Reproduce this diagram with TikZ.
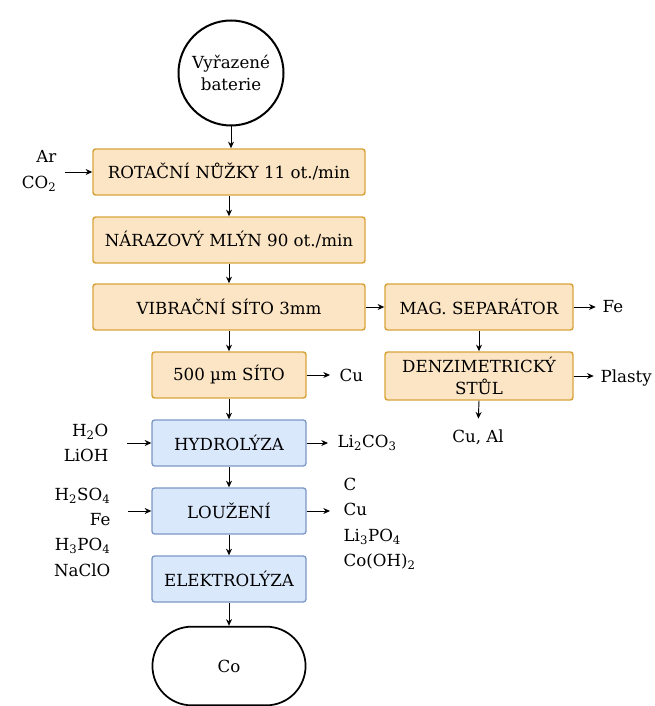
\documentclass[tikz,border=0pt]{standalone}
\usepackage{fontspec}
\setmainfont{DejaVu Serif}
\usetikzlibrary{arrows.meta,shapes.misc}
\definecolor{mechfill}{HTML}{FCE5C4}
\definecolor{mechline}{HTML}{D8A43C}
\definecolor{chemfill}{HTML}{DAE8FC}
\definecolor{chemline}{HTML}{7C98C4}

\begin{document}
\begin{tikzpicture}[x=0.75pt,y=-0.75pt,font=\fontsize{12.5}{16}\selectfont,>={Stealth[length=5pt,width=4.5pt]},
mech/.style={draw=mechline,fill=mechfill,line width=1.1pt,rounded corners=2pt,align=center,minimum height=34.5pt,inner sep=2pt},
chem/.style={draw=chemline,fill=chemfill,line width=1pt,rounded corners=2pt,align=center,minimum height=34.5pt,minimum width=115.5pt,inner sep=2pt},
lab/.style={inner sep=1pt,font=\fontsize{12.5}{19}\selectfont},
flow/.style={->,line width=0.7pt}]
\useasboundingbox (0,0) rectangle (655,706);
% mechanicka cast
\node[circle,draw,line width=1.5pt,minimum size=78.75pt,align=center] (batt) at (231,73) {Vyřazené\\baterie};
\node[mech,minimum width=204pt] (rot) at (229,172) {ROTAČNÍ NŮŽKY 11 ot./min};
\node[mech,minimum width=204pt] (mill) at (229,240) {NÁRAZOVÝ MLÝN 90 ot./min};
\node[mech,minimum width=204pt] (vib) at (229,307) {VIBRAČNÍ SÍTO 3mm};
\node[mech,minimum width=141pt] (mag) at (479,307) {MAG. SEPARÁTOR};
\node[mech,minimum width=115.5pt] (sieve) at (229,375) {500 µm SÍTO};
\node[mech,minimum width=141pt,minimum height=36pt] (denz) at (479,376) {DENZIMETRICKÝ\\STŮL};
% chemicka cast
\node[chem] (hydro) at (229,443) {HYDROLÝZA};
\node[chem] (leach) at (229,511) {LOUŽENÍ};
\node[chem] (elec) at (229,579) {ELEKTROLÝZA};
\node[rounded rectangle,draw,line width=1.3pt,minimum width=121.5pt,minimum height=59pt] (co) at (229,666) {Co};
% vstupy a vystupy
\node[lab,align=right,anchor=east] (gas) at (58,171) {Ar\\CO\textsubscript{2}};
\node[lab,anchor=west] (fe) at (601,307) {Fe};
\node[lab,anchor=west] (plast) at (599,378) {Plasty};
\node[lab] (cual) at (478,437) {Cu, Al};
\node[lab,anchor=west] (cu) at (338,375) {Cu};
\node[lab,align=right,anchor=east] (hydroin) at (110,443) {H\textsubscript{2}O\\LiOH};
\node[lab,anchor=west] (hydroout) at (336,443) {Li\textsubscript{2}CO\textsubscript{3}};
\node[lab,align=right,anchor=east] (leachin) at (112,532) {H\textsubscript{2}SO\textsubscript{4}\\Fe\\H\textsubscript{3}PO\textsubscript{4}\\NaClO};
\node[lab,align=left,anchor=west] (leachout) at (342,524) {C\\Cu\\Li\textsubscript{3}PO\textsubscript{4}\\Co(OH)\textsubscript{2}};
% sipky
\draw[flow] (batt.south) -- (batt.south |- rot.north);
\draw[flow] (rot.south) -- (mill.north);
\draw[flow] (mill.south) -- (vib.north);
\draw[flow] (vib.south) -- (sieve.north);
\draw[flow] (vib.east) -- (mag.west);
\draw[flow] (mag.south) -- (denz.north);
\draw[flow] (sieve.south) -- (hydro.north);
\draw[flow] (hydro.south) -- (leach.north);
\draw[flow] (leach.south) -- (elec.north);
\draw[flow] (elec.south) -- (co.north);
\draw[flow,shorten <=5pt] (gas.east |- rot.west) -- (rot.west);
\draw[flow,shorten >=4pt] (mag.east) -- (fe.west);
\draw[flow,shorten >=4pt] (denz.east) -- (denz.east -| plast.west);
\draw[flow,shorten >=7pt] (denz.south) -- (cual.north);
\draw[flow,shorten >=6pt] (sieve.east) -- (cu.west);
\draw[flow,shorten <=13pt] (hydroin.east |- hydro.west) -- (hydro.west);
\draw[flow,shorten >=6pt] (hydro.east) -- (hydroout.west);
\draw[flow,shorten <=12pt] (leachin.east |- leach.west) -- (leach.west);
\draw[flow,shorten >=9pt] (leach.east) -- (leach.east -| leachout.west);
\end{tikzpicture}
\end{document}
